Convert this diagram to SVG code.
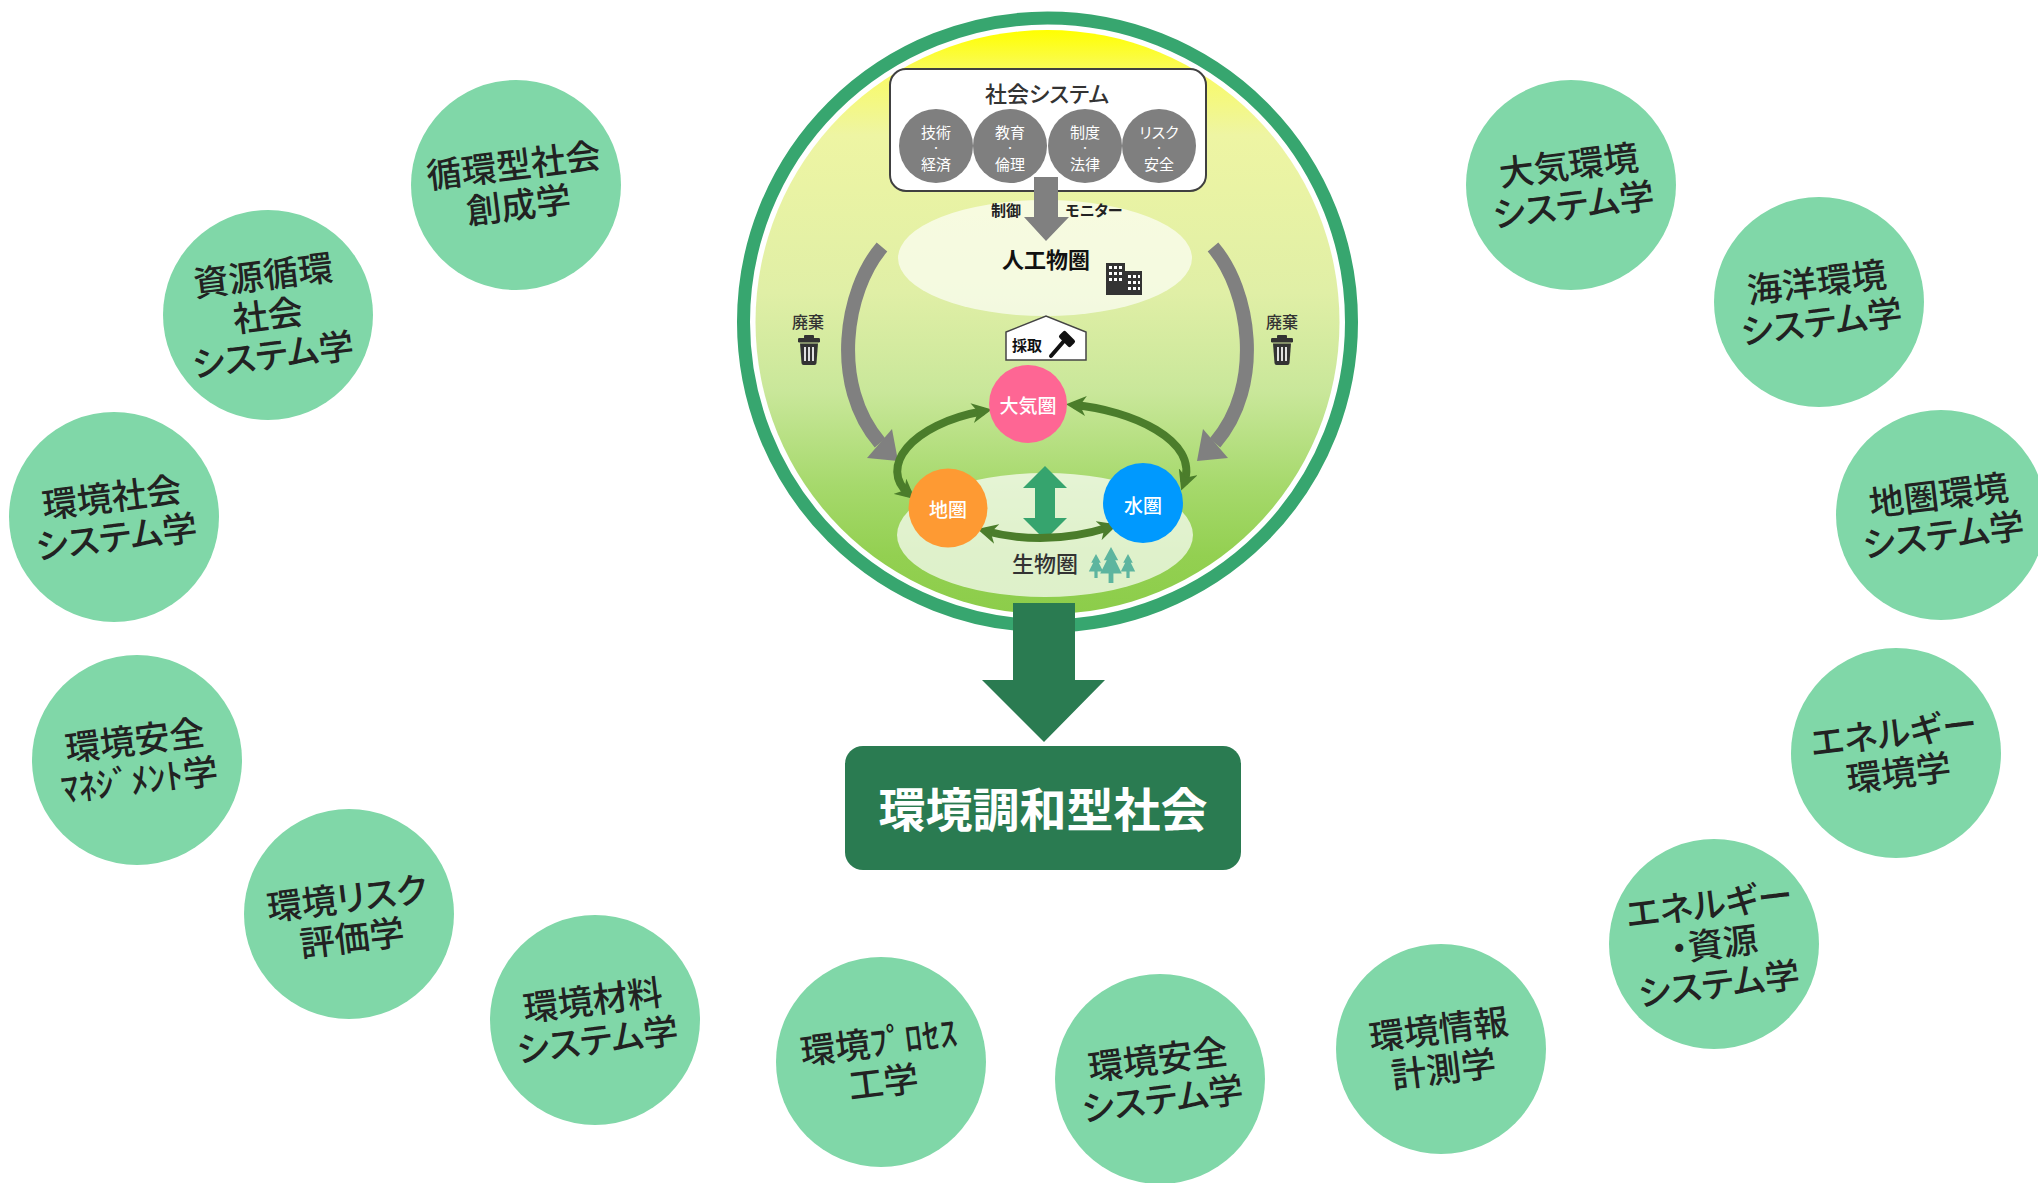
<svg xmlns="http://www.w3.org/2000/svg" width="2038" height="1183" viewBox="0 0 2038 1183">
  <defs>
    <style>
      .jp { font-family: 'Noto Sans CJK JP', 'Noto Sans CJK SC', sans-serif; font-feature-settings: "palt"; text-anchor: middle; }
      .topic circle { fill: #80d7a8; }
      .topic text { font-size: 35px; font-weight: 500; fill: #222222; }
      .soc circle { fill: #7f7f7f; }
      .soc text { font-size: 15px; fill: #ffffff; }
      .soc .dot { font-size: 9px; }
      .sphere text { font-size: 19px; fill: #ffffff; font-weight: 500; }
      .lbl { font-size: 16px; fill: #333333; font-weight: 500; }
      .flow { font-size: 15px; fill: #222222; font-weight: 700; }
      .grayarc { fill: none; stroke: #808080; stroke-width: 14; }
      .greenarc { fill: none; stroke: #4b7d2b; stroke-width: 8; marker-start: url(#gHead); marker-end: url(#gHead); }
    </style>
    <linearGradient id="sky" gradientUnits="userSpaceOnUse" x1="0" y1="30" x2="0" y2="614">
      <stop offset="0" stop-color="#ffff00"/>
      <stop offset="0.08" stop-color="#f8fa6a"/>
      <stop offset="0.18" stop-color="#eef5a3"/>
      <stop offset="0.45" stop-color="#e0efa6"/>
      <stop offset="0.62" stop-color="#c9e79a"/>
      <stop offset="0.78" stop-color="#a6d96c"/>
      <stop offset="0.9" stop-color="#93d051"/>
      <stop offset="1" stop-color="#8ccd4a"/>
    </linearGradient>
    <marker id="gHead" viewBox="0 0 20 20" markerUnits="userSpaceOnUse" markerWidth="20" markerHeight="20" refX="12" refY="10" orient="auto-start-reverse">
      <path d="M0,0 L20,10 L0,20 L6,10 Z" fill="#4b7d2b"/>
    </marker>
    <g id="trash">
      <rect x="-5" y="0" width="10" height="3.5" rx="1" fill="#333"/>
      <rect x="-11" y="3" width="22" height="4.5" rx="1.2" fill="#333"/>
      <path d="M-9,8.5 L9,8.5 L7.5,28 Q7.3,30 5.5,30 L-5.5,30 Q-7.3,30 -7.5,28 Z" fill="#333"/>
      <rect x="-5" y="12" width="2" height="14" fill="#ffffff" opacity="0.85"/>
      <rect x="-1" y="12" width="2" height="14" fill="#ffffff" opacity="0.85"/>
      <rect x="3" y="12" width="2" height="14" fill="#ffffff" opacity="0.85"/>
    </g>
    <path id="tree" d="M0,0 L-6,11 L-3.5,11 L-9,22 L-2,22 L-2,30 L2,30 L2,22 L9,22 L3.5,11 L6,11 Z" fill="#5db59f"/>
  </defs>

  <!-- central environment circle -->
  <g id="world">
    <circle cx="1047.5" cy="322" r="304" fill="none" stroke="#37a66f" stroke-width="13"/>
    <circle cx="1047.5" cy="322" r="292" fill="url(#sky)"/>
    <ellipse cx="1045" cy="258" rx="147" ry="58" fill="#ffffff" opacity="0.65"/>
    <ellipse cx="1045" cy="535" rx="148" ry="62" fill="#ffffff" opacity="0.7"/>
  </g>

  <!-- social system box -->
  <g id="social-system">
    <rect x="890" y="69" width="316" height="122" rx="16" fill="#ffffff" stroke="#404040" stroke-width="2"/>
    <text class="jp" x="1047" y="102" font-size="22" fill="#333333" font-weight="500">社会システム</text>
    <g class="soc jp">
      <circle cx="936" cy="146" r="37"/>
      <text><tspan x="936" y="138">技術</tspan><tspan class="dot" x="936" y="151">・</tspan><tspan x="936" y="170">経済</tspan></text>
      <circle cx="1010" cy="146" r="37"/>
      <text><tspan x="1010" y="138">教育</tspan><tspan class="dot" x="1010" y="151">・</tspan><tspan x="1010" y="170">倫理</tspan></text>
      <circle cx="1085" cy="146" r="37"/>
      <text><tspan x="1085" y="138">制度</tspan><tspan class="dot" x="1085" y="151">・</tspan><tspan x="1085" y="170">法律</tspan></text>
      <circle cx="1159" cy="146" r="37"/>
      <text><tspan x="1159" y="138">リスク</tspan><tspan class="dot" x="1159" y="151">・</tspan><tspan x="1159" y="170">安全</tspan></text>
    </g>
  </g>

  <!-- artificial sphere -->
  <g id="artificial-sphere">
    <text class="jp" x="1046" y="268" font-size="22" font-weight="700" fill="#111111">人工物圏</text>
    <g fill="#333333">
      <rect x="1106" y="263" width="19" height="32"/>
      <rect x="1125" y="271" width="17" height="24"/>
    </g>
    <g fill="#ffffff">
      <rect x="1109" y="266" width="3" height="3"/><rect x="1114" y="266" width="3" height="3"/><rect x="1119" y="266" width="3" height="3"/>
      <rect x="1109" y="272" width="3" height="3"/><rect x="1114" y="272" width="3" height="3"/><rect x="1119" y="272" width="3" height="3"/>
      <rect x="1109" y="278" width="3" height="3"/><rect x="1114" y="278" width="3" height="3"/><rect x="1119" y="278" width="3" height="3"/>
      <rect x="1128" y="275" width="3" height="3"/><rect x="1133" y="275" width="3" height="3"/><rect x="1138" y="275" width="2" height="3"/>
      <rect x="1128" y="281" width="3" height="3"/><rect x="1133" y="281" width="3" height="3"/><rect x="1138" y="281" width="2" height="3"/>
      <rect x="1128" y="287" width="3" height="3"/><rect x="1133" y="287" width="3" height="3"/><rect x="1138" y="287" width="2" height="3"/>
    </g>
  </g>

  <!-- control / monitor labels beside the down arrow -->
  <g id="control-monitor">
    <text class="jp flow" x="1006" y="216">制御</text>
    <text class="jp flow" x="1094" y="216">モニター</text>
  </g>

  <!-- extraction label -->
  <g id="extraction">
    <path d="M1006,360 L1006,332 L1046,316 L1086,332 L1086,360 Z" fill="#ffffff" stroke="#444444" stroke-width="1.5"/>
    <text class="jp" x="1027" y="351" font-size="15" font-weight="700" fill="#111111">採取</text>
    <line x1="1051" y1="356" x2="1064" y2="341" stroke="#111111" stroke-width="4" stroke-linecap="round"/>
    <rect x="-8" y="-4.5" width="16" height="9" rx="2" fill="#111111" transform="translate(1067,339) rotate(45)"/>
  </g>

  <!-- disposal labels -->
  <g id="disposal-left">
    <text class="jp lbl" x="808" y="328">廃棄</text>
    <use href="#trash" x="809" y="335"/>
  </g>
  <g id="disposal-right">
    <text class="jp lbl" x="1282" y="328">廃棄</text>
    <use href="#trash" x="1282" y="335"/>
  </g>

  <!-- biosphere -->
  <g id="biosphere">
    <text class="jp" x="1045" y="572" font-size="22" font-weight="500" fill="#333333">生物圏</text>
    <use href="#tree" x="1096" y="554" transform="translate(1096,554) scale(0.8) translate(-1096,-554)"/>
    <use href="#tree" x="1128" y="554" transform="translate(1128,554) scale(0.8) translate(-1128,-554)"/>
    <use href="#tree" x="1111" y="547" transform="translate(1111,547) scale(1.2) translate(-1111,-547)"/>
  </g>

  <!-- connectors -->
  <g id="connectors">
    <path d="M1013,603 L1075,603 L1075,680 L1105,680 L1044,742 L982,680 L1013,680 Z" fill="#2a7b51"/>
    <path d="M1034,177 L1058,177 L1058,217 L1069,217 L1046,241 L1024,217 L1034,217 Z" fill="#808080"/>
    <path class="grayarc" d="M882,247 C845,290 830,385 880,443"/>
    <path d="M867,458 L892,429 L898,461 Z" fill="#808080"/>
    <path class="grayarc" d="M1213,247 C1250,290 1265,385 1215,443"/>
    <path d="M1228,458 L1203,429 L1197,461 Z" fill="#808080"/>
    <path d="M1045,466 L1067,488 L1055,488 L1055,518 L1067,518 L1045,540 L1023,518 L1035,518 L1035,488 L1023,488 Z" fill="#36a46e"/>
    <path class="greenarc" d="M984,411 C910,424 878,468 909,494"/>
    <path class="greenarc" d="M1074,405 C1130,410 1200,440 1184,483"/>
    <path class="greenarc" d="M985,531 Q1047,547 1110,527"/>
  </g>

  <!-- natural spheres -->
  <g id="atmosphere" class="sphere jp">
    <circle cx="1028" cy="404" r="39" fill="#fe6694"/>
    <text x="1028" y="413">大気圏</text>
  </g>
  <g id="geosphere" class="sphere jp">
    <circle cx="948" cy="508" r="39.5" fill="#fe9a33"/>
    <text x="948" y="517">地圏</text>
  </g>
  <g id="hydrosphere" class="sphere jp">
    <circle cx="1143" cy="503" r="40" fill="#0099fe"/>
    <text x="1143" y="513">水圏</text>
  </g>

  <!-- goal -->
  <g id="goal">
    <rect x="845" y="746" width="396" height="124" rx="18" fill="#2a7b51"/>
    <text class="jp" x="1043" y="827" font-size="47" font-weight="700" fill="#ffffff">環境調和型社会</text>
  </g>

  <!-- research fields -->
  <g id="field-01" class="topic jp" transform="translate(516,185)">
    <circle r="105"/>
    <text transform="rotate(-7)"><tspan x="0" y="-7">循環型社会</tspan><tspan x="0" y="33">創成学</tspan></text>
  </g>
  <g id="field-02" class="topic jp" transform="translate(268,315)">
    <circle r="105"/>
    <text transform="rotate(-7)" font-weight="700" fill="#111"><tspan x="0" y="-27">資源循環</tspan><tspan x="0" y="13">社会</tspan><tspan x="0" y="53">システム学</tspan></text>
  </g>
  <g id="field-03" class="topic jp" transform="translate(114,517)">
    <circle r="105"/>
    <text transform="rotate(-7)"><tspan x="0" y="-7">環境社会</tspan><tspan x="0" y="33">システム学</tspan></text>
  </g>
  <g id="field-04" class="topic jp" transform="translate(137,760)">
    <circle r="105"/>
    <text transform="rotate(-7)"><tspan x="0" y="-7">環境安全</tspan><tspan x="0" y="33">ﾏﾈｼﾞﾒﾝﾄ学</tspan></text>
  </g>
  <g id="field-05" class="topic jp" transform="translate(349,914)">
    <circle r="105"/>
    <text transform="rotate(-7)"><tspan x="0" y="-3">環境リスク</tspan><tspan x="0" y="37">評価学</tspan></text>
  </g>
  <g id="field-06" class="topic jp" transform="translate(595,1020)">
    <circle r="105"/>
    <text transform="rotate(-7)"><tspan x="0" y="-7">環境材料</tspan><tspan x="0" y="33">システム学</tspan></text>
  </g>
  <g id="field-07" class="topic jp" transform="translate(881,1062)">
    <circle r="105"/>
    <text transform="rotate(-7)"><tspan x="0" y="-7">環境ﾌﾟﾛｾｽ</tspan><tspan x="0" y="33">工学</tspan></text>
  </g>
  <g id="field-08" class="topic jp" transform="translate(1160,1079)">
    <circle r="105"/>
    <text transform="rotate(-7)"><tspan x="0" y="-7">環境安全</tspan><tspan x="0" y="33">システム学</tspan></text>
  </g>
  <g id="field-09" class="topic jp" transform="translate(1441,1049)">
    <circle r="105"/>
    <text transform="rotate(-7)"><tspan x="0" y="-7">環境情報</tspan><tspan x="0" y="33">計測学</tspan></text>
  </g>
  <g id="field-10" class="topic jp" transform="translate(1714,944)">
    <circle r="105"/>
    <text transform="rotate(-7)"><tspan x="0" y="-27">エネルギー</tspan><tspan x="0" y="13">・資源</tspan><tspan x="0" y="53">システム学</tspan></text>
  </g>
  <g id="field-11" class="topic jp" transform="translate(1896,753)">
    <circle r="105"/>
    <text transform="rotate(-7)"><tspan x="0" y="-7">エネルギー</tspan><tspan x="0" y="33">環境学</tspan></text>
  </g>
  <g id="field-12" class="topic jp" transform="translate(1941,515)">
    <circle r="105"/>
    <text transform="rotate(-7)"><tspan x="0" y="-7">地圏環境</tspan><tspan x="0" y="33">システム学</tspan></text>
  </g>
  <g id="field-13" class="topic jp" transform="translate(1819,302)">
    <circle r="105"/>
    <text transform="rotate(-7)"><tspan x="0" y="-7">海洋環境</tspan><tspan x="0" y="33">システム学</tspan></text>
  </g>
  <g id="field-14" class="topic jp" transform="translate(1571,185)">
    <circle r="105"/>
    <text transform="rotate(-7)"><tspan x="0" y="-7">大気環境</tspan><tspan x="0" y="33">システム学</tspan></text>
  </g>
</svg>
